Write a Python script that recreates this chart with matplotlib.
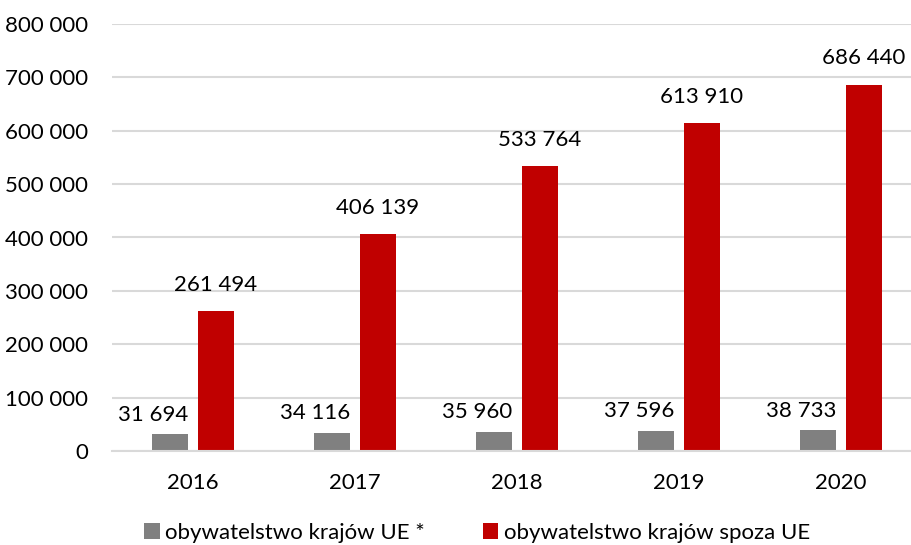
import numpy as np
import matplotlib.pyplot as plt
from matplotlib.ticker import FuncFormatter

plt.rcParams['font.family'] = ['Lato', 'DejaVu Sans']

years = ['2016', '2017', '2018', '2019', '2020']
ue = [31694, 34116, 35960, 37596, 38733]
spoza_ue = [261494, 406139, 533764, 613910, 686440]
labels = ['obywatelstwo krajów UE *', 'obywatelstwo krajów spoza UE']

def fmt(v, pos=None):
    return f"{int(v):,}".replace(",", " ")

fig = plt.figure(figsize=(9.12, 5.45), dpi=100)
ax = fig.add_axes([112/912, 94/545, 810/912, 427/545])

x = np.arange(len(years))
w = 0.226
off = 0.142
b1 = ax.bar(x - off, ue, w, color='#808080', label=labels[0])
b2 = ax.bar(x + off, spoza_ue, w, color='#C00000', label=labels[1])

fs = 16
for xi, v in zip(x, ue):
    ax.annotate(fmt(v), (xi - off, v), xytext=(-12, 14), textcoords='offset points',
                ha='center', va='center', fontsize=fs, color='#000000')
for xi, v in zip(x + off, spoza_ue):
    ax.annotate(fmt(v), (xi, v), xytext=(0, 19), textcoords='offset points',
                ha='center', va='center', fontsize=fs, color='#000000')

ax.set_xlim(-0.5, len(years) - 0.5)
ax.set_ylim(0, 800000)
ax.set_yticks(np.arange(0, 800001, 100000))
ax.yaxis.set_major_formatter(FuncFormatter(fmt))
ax.set_xticks(x)
ax.set_xticklabels(years)
ax.tick_params(axis='both', length=0, labelsize=fs, colors='#000000')
ax.tick_params(axis='y', pad=17)
ax.tick_params(axis='x', pad=16)
ax.grid(axis='y', color='#d9d9d9', linewidth=1.5)
ax.set_axisbelow(True)
for s in ['top', 'right', 'left']:
    ax.spines[s].set_visible(False)
ax.spines['bottom'].set_color('#d9d9d9')
ax.spines['bottom'].set_linewidth(1.5)

fig.legend(handles=[b1, b2], loc='center', bbox_to_anchor=(477/912, 1 - 533/545),
           ncol=2, frameon=False, fontsize=fs, handlelength=0.7, handleheight=0.7,
           handletextpad=0.25, columnspacing=2.6)

fig.savefig('out.png', dpi=100)
